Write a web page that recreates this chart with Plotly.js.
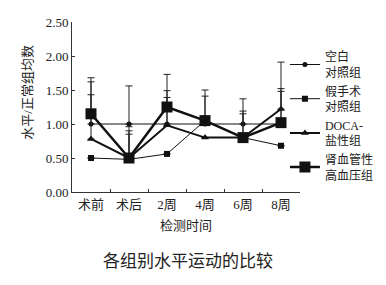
<!DOCTYPE html>
<html><head><meta charset="utf-8">
<script src="https://cdn.plot.ly/plotly-3.0.1.min.js"></script>
<style>html,body{margin:0;padding:0;background:#fff}#c{width:386px;height:285px}</style>
</head><body><div id="c"></div>
<script>
const categories = ['术前','术后','2周','4周','6周','8周'];
const names = ['空白<br>对照组','假手术<br>对照组','DOCA-<br>盐性组','肾血管性<br>高血压组'];
const yTitle = '水平/正常组均数';
const blank = [1.00, 1.00, 1.00, 1.00, 1.00, 1.00];
const sham = [0.50, 0.48, 0.56, 1.05, 0.80, 0.68];
const doca = [0.78, 0.50, 0.98, 0.80, 0.80, 1.22];
const renal = [1.15, 0.50, 1.25, 1.05, 0.80, 1.02];
const blankErr = [0.62, 0.56, 0.49, 0.41, 0.37, 0.48];
const shamErr = [null, 0.37, null, null, null, null];
const docaErr = [0.65, 0.40, 0.41, null, 0.39, 0.69];
const renalErr = [0.53, 0.46, 0.48, 0.45, 0.35, 0.50];

const serif = '"Liberation Serif", "Noto Sans CJK SC", serif';
function tr(y, err, name, sym, size, lw){
  return {x: categories, y: y, name: name, type:'scatter', mode:'lines+markers',
    line:{color:'#111', width:lw}, marker:{symbol:sym, size:size, color:'#111'},
    error_y:{type:'data', symmetric:false, array:err, arrayminus:err.map(()=>0), color:'#222', thickness:1, width:3.5}};
}
const data = [
  tr(blank, blankErr, names[0], 'circle', 5, 1),
  tr(sham, shamErr, names[1], 'square', 6, 1),
  tr(doca, docaErr, names[2], 'triangle-up', 7, 2),
  tr(renal, renalErr, names[3], 'square', 11, 2.5)
];
const layout = {
  width:386, height:285, margin:{l:72, r:86, t:22, b:93, autoexpand:false},
  paper_bgcolor:'#fff', plot_bgcolor:'#fff', showlegend:true,
  font:{family:serif, color:'#222', size:13},
  title:{text:'各组别水平运动的比较', font:{family:serif, size:17, color:'#222'}, x:0.487, xanchor:'center', y:0.085, yanchor:'middle'},
  xaxis:{type:'category', range:[-0.5,5.5], showline:true, linecolor:'#333', linewidth:1, tickangle:0,
    ticks:'inside', ticklen:3, tickcolor:'#333', tickson:'boundaries', showgrid:false, zeroline:false,
    tickfont:{family:serif, size:13}, title:{text:'检测时间', font:{family:serif, size:13}, standoff:10}},
  yaxis:{range:[0,2.5], tickvals:[0,0.5,1,1.5,2,2.5], ticktext:['0.00','0.50','1.00','1.50','2.00','2.50'],
    showline:true, linecolor:'#333', linewidth:1, ticks:'inside', ticklen:3, tickcolor:'#333', showgrid:false, zeroline:false,
    tickfont:{family:serif, size:13}},
  annotations:[{text:yTitle, xref:'paper', yref:'paper', x:-0.193, y:0.59, xanchor:'center', yanchor:'middle',
    textangle:-90, showarrow:false, font:{family:serif, size:13, color:'#222'}}],
  legend:{x:0.934, xanchor:'left', y:0.88, yanchor:'top', font:{family:serif, size:12}, itemwidth:30, tracegroupgap:0, bgcolor:'rgba(0,0,0,0)'}
};
Plotly.newPlot('c', data, layout, {displayModeBar:false, staticPlot:true});
</script></body></html>
